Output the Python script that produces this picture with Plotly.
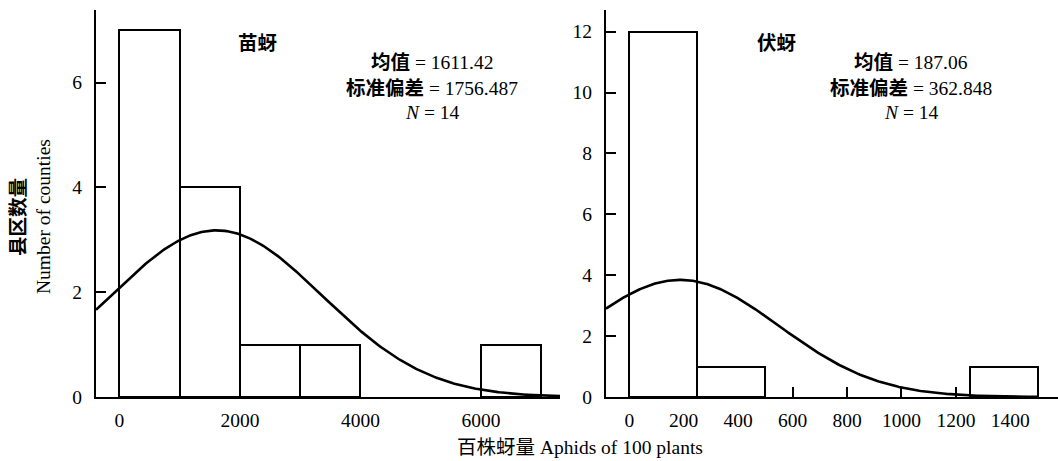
import numpy as np
import plotly.graph_objects as go

W, H = 1058, 461

# ---- data ----
left_title = "苗蚜"
left_bin_edges = [0, 1000, 2000, 3000, 4000, 5000, 6000, 7000]
left_counts = [7, 4, 1, 1, 0, 0, 1]
left_mean = 1611.42
left_sd = 1756.487
left_n = 14
left_xticks = [0, 2000, 4000, 6000]
left_yticks = [0, 2, 4, 6]

right_title = "伏蚜"
right_bin_edges = [0, 250, 500, 750, 1000, 1250, 1500]
right_counts = [12, 1, 0, 0, 0, 1]
right_mean = 187.06
right_sd = 362.848
right_n = 14
right_xticks = [0, 200, 400, 600, 800, 1000, 1200, 1400]
right_yticks = [0, 2, 4, 6, 8, 10, 12]

y_title_cn = "县区数量"
y_title_en = "Number of counties"
x_title = "百株蚜量 Aphids of 100 plants"

SERIF = "Liberation Serif, Noto Sans CJK SC"
FS = 19.5

T, B = 10, 64
PLOT_TOP, PLOT_BOT = T, H - B

fig = go.Figure()


def add_hist(edges, counts, mean, sd, n, xr, xa, ya):
    centers = [(edges[i] + edges[i + 1]) / 2 for i in range(len(counts)) if counts[i] > 0]
    widths = [(edges[i + 1] - edges[i]) for i in range(len(counts)) if counts[i] > 0]
    vals = [c for c in counts if c > 0]
    fig.add_trace(go.Bar(x=centers, y=vals, width=widths, xaxis=xa, yaxis=ya,
                         marker=dict(color="white", line=dict(color="black", width=2)),
                         showlegend=False, hoverinfo="skip"))
    bw = edges[1] - edges[0]
    xs = np.linspace(xr[0], xr[1], 300)
    ys = n * bw / (sd * np.sqrt(2 * np.pi)) * np.exp(-0.5 * ((xs - mean) / sd) ** 2)
    fig.add_trace(go.Scatter(x=xs, y=ys, mode="lines", xaxis=xa, yaxis=ya,
                             line=dict(color="black", width=2.6),
                             showlegend=False, hoverinfo="skip"))


left_xr = [-388, 7310]
right_xr = [-85.6, 1575]
add_hist(left_bin_edges, left_counts, left_mean, left_sd, left_n, left_xr, "x", "y")
add_hist(right_bin_edges, right_counts, right_mean, right_sd, right_n, [right_xr[0], 1500], "x2", "y2")

axis_common = dict(showline=True, linecolor="black", linewidth=2, ticks="inside",
                   ticklen=10, tickwidth=1.5, tickcolor="black", showgrid=False,
                   zeroline=False, mirror=False, layer="below traces",
                   tickfont=dict(family=SERIF, size=FS, color="black"))

fig.update_layout(
    width=W, height=H,
    margin=dict(l=0, r=0, t=T, b=B),
    paper_bgcolor="white", plot_bgcolor="white",
    bargap=0,
    barmode="overlay",
    xaxis=dict(domain=[96 / W, 560 / W], range=left_xr, tickvals=left_xticks,
               anchor="y", ticklabelstandoff=5, **axis_common),
    yaxis=dict(domain=[0, 1], range=[0, 7.385], tickvals=left_yticks,
               anchor="x", ticklabelstandoff=8, **axis_common),
    xaxis2=dict(domain=[606 / W, 1.0], range=right_xr, tickvals=right_xticks,
                anchor="y2", ticklabelstandoff=5, **axis_common),
    yaxis2=dict(domain=[0, 1], range=[0, 12.71], tickvals=right_yticks,
                anchor="x2", ticklabelstandoff=8, **axis_common),
)


def ann(text, px, py, size=FS, angle=0):
    fig.add_annotation(text=text, x=px / W, y=(PLOT_BOT - py) / (PLOT_BOT - PLOT_TOP),
                       xref="paper", yref="paper",
                       xanchor="center", yanchor="middle", showarrow=False,
                       textangle=angle, font=dict(family=SERIF, size=size, color="black"))


ann("<b>" + left_title + "</b>", 257, 43)
ann("<b>均值</b> = " + f"{left_mean:.2f}", 432, 63)
ann("<b>标准偏差</b> = " + f"{left_sd:.3f}", 432, 88)
ann("<i>N</i> = " + str(left_n), 432, 112)

ann("<b>" + right_title + "</b>", 776, 43)
ann("<b>均值</b> = " + f"{right_mean:.2f}", 911, 63)
ann("<b>标准偏差</b> = " + f"{right_sd:.3f}", 911, 88)
ann("<i>N</i> = " + str(right_n), 911, 112)

ann("<b>" + y_title_cn + "</b>", 18, 217, angle=-90)
ann(y_title_en, 43, 217, angle=-90)
ann(x_title, 580, 447)

fig.write_html("out.html", config={"displayModeBar": False},
               post_script="document.body.style.margin='0';")
